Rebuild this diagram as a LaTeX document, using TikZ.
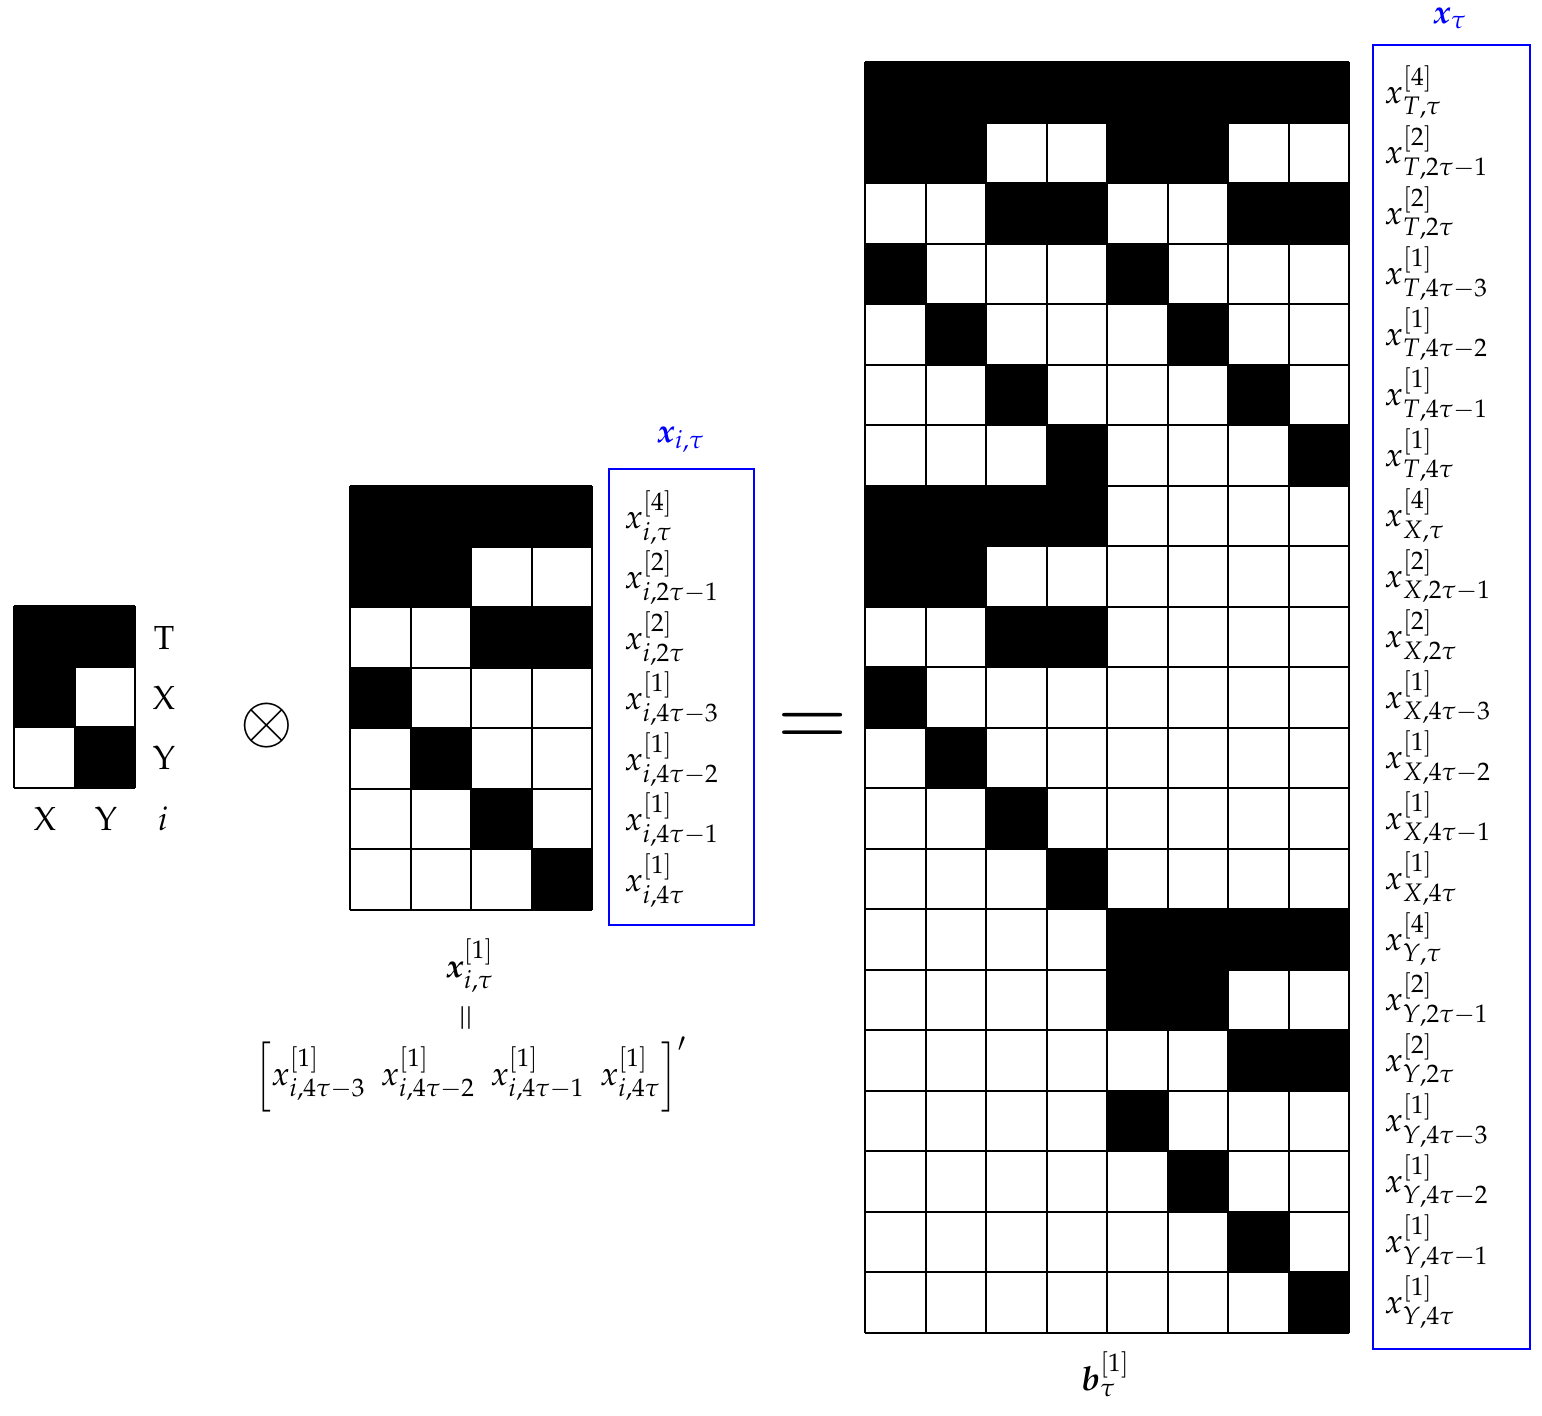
\documentclass[tikz,border=0pt]{standalone}
\usepackage[T1]{fontenc}
\usepackage{mathpazo}
\usepackage{amsmath}
\usepackage{bm}
\usepackage{graphicx}
\def\cs{60.5}
\newcommand\drawgrid[4]{%
  \foreach \i in {0,...,#3} \draw[gridline] ({#1+\i*\cs},#2) -- ({#1+\i*\cs},{#2+#4*\cs});
  \foreach \j in {0,...,#4} \draw[gridline] (#1,{#2+\j*\cs}) -- ({#1+#3*\cs},{#2+\j*\cs});
}
\newcommand\blk[4]{\fill ({#1+#3*\cs},{#2+#4*\cs}) rectangle ++(\cs,\cs);}
\newcommand\tlbr{\mathopen{\vcenter{\hbox{\scalebox{1}[1.17]{$\nulldelimiterspace=0pt\left[\vphantom{x^{[1]}_{i,4\tau}}\right.$}}}}}
\newcommand\trbr{\mathclose{\vcenter{\hbox{\scalebox{1}[1.17]{$\nulldelimiterspace=0pt\left.\vphantom{x^{[1]}_{i,4\tau}}\right]$}}}}}
\newcommand\gapv{\mkern8mu}
\tikzset{
  gridline/.style={line width=0.6pt, black},
  bluebox/.style={draw=blue, line width=0.6pt},
  entry/.style={anchor=base west, inner sep=0pt},
  lbl/.style={anchor=base, inner sep=0pt},
}
\begin{document}
\begin{tikzpicture}[x=0.3pt, y=-0.3pt]
\useasboundingbox (0,0) rectangle (1542,1416);
% left grid
\foreach \c/\r in {0/0,1/0,0/1,1/2} {\blk{14}{606}{\c}{\r}}
\drawgrid{14}{606}{2}{3}
\node[lbl] (lT) at (164,649) {T};
\node[lbl] (lX) at (164,709) {X};
\node[lbl] (lY) at (164,769) {Y};
\node[lbl] (bX) at (45,830) {X};
\node[lbl] (bY) at (106,830) {Y};
\node[lbl] (bi) at (163,830) {$i$};
% otimes
\node (ot) at (267,726) {\fontsize{19.5}{22}\selectfont$\otimes$};
% middle grid
\foreach \c/\r in {0/0,1/0,2/0,3/0,0/1,1/1,2/2,3/2,0/3,1/4,2/5,3/6} {\blk{350}{486}{\c}{\r}}
\drawgrid{350}{486}{4}{7}
\draw[bluebox] (609,469) rectangle (754,925);
\node[lbl, text=blue] (lxi) at (681,442) {$\bm{x}_{i,\tau}$};
\foreach \t [count=\k from 0] in {{x^{[4]}_{i,\tau}},{x^{[2]}_{i,2\tau-1}},{x^{[2]}_{i,2\tau}},{x^{[1]}_{i,4\tau-3}},{x^{[1]}_{i,4\tau-2}},{x^{[1]}_{i,4\tau-1}},{x^{[1]}_{i,4\tau}}}
  {\node[entry] (m\k) at (624,{486+30.25+\k*\cs+12}) {$\t$};}
\node[lbl] (xb) at (470,977) {$\bm{x}^{[1]}_{i,\tau}$};
\node (eqv) at (468,1018) {\rotatebox{90}{$=$}};
\node[lbl] (vec) at (471,1085) {$\tlbr x^{[1]}_{i,4\tau-3}\gapv x^{[1]}_{i,4\tau-2}\gapv x^{[1]}_{i,4\tau-1}\gapv x^{[1]}_{i,4\tau}\trbr'$};
% equals
\node (eq) at (813,730) {\fontsize{26}{28}\selectfont$=$};
% big grid
\foreach \a/\b in {0/0,1/0,0/1,1/2} {
  \foreach \c/\r in {0/0,1/0,2/0,3/0,0/1,1/1,2/2,3/2,0/3,1/4,2/5,3/6} {
    \pgfmathtruncatemacro\cc{4*\a+\c}
    \pgfmathtruncatemacro\rr{7*\b+\r}
    \blk{865}{62}{\cc}{\rr}
  }
}
\drawgrid{865}{62}{8}{21}
\draw[bluebox] (1373,45) rectangle (1530,1349);
\node[lbl, text=blue] (lxt) at (1450,23) {$\bm{x}_{\tau}$};
\foreach \g [count=\gi from 0] in {T,X,Y} {
  \foreach \t [count=\k from 0] in {{x^{[4]}_{\g,\tau}},{x^{[2]}_{\g,2\tau-1}},{x^{[2]}_{\g,2\tau}},{x^{[1]}_{\g,4\tau-3}},{x^{[1]}_{\g,4\tau-2}},{x^{[1]}_{\g,4\tau-1}},{x^{[1]}_{\g,4\tau}}}
    {\pgfmathtruncatemacro\n{7*\gi+\k}
     \node[entry] (e\n) at (1384,{62+30.25+\n*\cs+11}) {$\t$};}
}
\node[lbl] (lb) at (1106,1390) {$\bm{b}^{[1]}_{\tau}$};
\end{tikzpicture}
\end{document}
